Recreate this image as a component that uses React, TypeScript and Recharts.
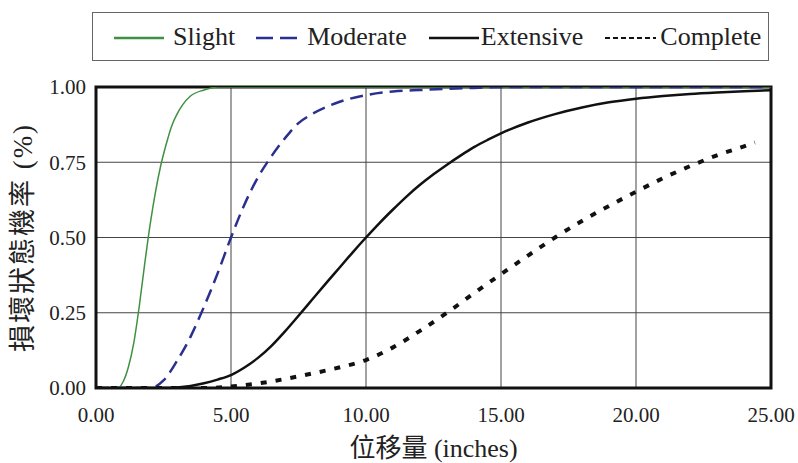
import { LineChart, Line, XAxis, YAxis, CartesianGrid, ReferenceArea } from 'recharts'

// Tick positions.
const X_TICKS = [0, 5, 10, 15, 20, 25]
const Y_TICKS = [0, 0.25, 0.5, 0.75, 1]
const X_MINOR = [1, 2, 3, 4, 6, 7, 8, 9, 11, 12, 13, 14, 16, 17, 18, 19, 21, 22, 23, 24]
const Y_MINOR = [0.05, 0.1, 0.15, 0.2, 0.3, 0.35, 0.4, 0.45, 0.55, 0.6, 0.65, 0.7, 0.8, 0.85, 0.9, 0.95]

// Fragility curves, values.
const SLIGHT_X = [0, 0.5, 0.8, 1.0, 1.2, 1.4, 1.6, 1.8, 2.0, 2.2, 2.4, 2.6, 2.8, 3.0, 3.2, 3.5, 4.0, 4.5, 5, 10, 15, 20, 25]
const SLIGHT_Y = [0, 0, 0, 0.02, 0.07, 0.15, 0.27, 0.41, 0.54, 0.65, 0.74, 0.81, 0.87, 0.91, 0.94, 0.97, 0.99, 1, 1, 1, 1, 1, 1]

const MODERATE_X = [0, 1.5, 2.0, 2.5, 3.0, 3.5, 4.0, 4.5, 5.0, 5.5, 6.0, 6.5, 7.0, 7.5, 8.0, 9.0, 10, 11, 12, 13, 14, 15, 20, 25]
const MODERATE_Y = [0, 0, 0, 0.025, 0.09, 0.17, 0.27, 0.38, 0.5, 0.61, 0.7, 0.77, 0.83, 0.88, 0.91, 0.95, 0.973, 0.985, 0.99, 0.994, 0.997, 1, 1, 1]

const EXTENSIVE_X = [0, 2.5, 3, 3.5, 4, 4.5, 5, 5.5, 6, 6.5, 7, 7.5, 8, 8.5, 9, 9.5, 10, 10.5, 11, 11.5, 12, 12.5, 13, 13.5, 14, 14.5, 15, 16, 17, 18, 19, 20, 21, 22, 23, 24, 25]
const EXTENSIVE_Y = [0, 0, 0.002, 0.007, 0.016, 0.028, 0.043, 0.068, 0.1, 0.14, 0.188, 0.24, 0.293, 0.346, 0.398, 0.45, 0.5, 0.548, 0.593, 0.636, 0.675, 0.71, 0.742, 0.772, 0.8, 0.824, 0.846, 0.882, 0.91, 0.932, 0.949, 0.961, 0.97, 0.977, 0.982, 0.986, 0.989]

const COMPLETE_X = [0, 4, 5, 6, 7, 8, 9, 10, 11, 12, 13, 14, 15, 16, 17, 18, 19, 20, 21, 22, 23, 24, 24.4]
const COMPLETE_Y = [0, 0, 0.005, 0.015, 0.03, 0.048, 0.068, 0.093, 0.135, 0.19, 0.25, 0.315, 0.378, 0.44, 0.5, 0.555, 0.605, 0.652, 0.697, 0.737, 0.773, 0.803, 0.816]

const SERIES_NAMES = ['Slight', 'Moderate', 'Extensive', 'Complete']

const toRows = (xs: number[], ys: number[]) => xs.map((x, i) => ({ x, y: ys[i] }))

type Style = { color: string; width: number; dash?: string; legendDash?: string; legendWidth: number; lineLen: number; gap: number; after: number }

const STYLES: Style[] = [
  { color: '#3f9142', width: 1.5, legendWidth: 2.5, lineLen: 50, gap: 9, after: 21 },
  { color: '#2b2f8f', width: 2.5, dash: '13 7', legendDash: '17 7', legendWidth: 2.5, lineLen: 46, gap: 5, after: 22 },
  { color: '#111111', width: 2.5, legendWidth: 2.5, lineLen: 50, gap: 2, after: 22 },
  { color: '#111111', width: 4, dash: '6 9', legendDash: '5 3', legendWidth: 2, lineLen: 51, gap: 4, after: 0 },
]

const SERIES = [
  toRows(SLIGHT_X, SLIGHT_Y),
  toRows(MODERATE_X, MODERATE_Y),
  toRows(EXTENSIVE_X, EXTENSIVE_Y),
  toRows(COMPLETE_X, COMPLETE_Y),
].map((data, i) => ({ name: SERIES_NAMES[i], data, style: STYLES[i] }))

const TICK_FONT = "'Liberation Serif', 'Times New Roman', serif"
const TITLE_FONT = "'Liberation Serif', 'Noto Sans CJK TC', serif"

function ChartLegend() {
  return (
    <div
      style={{
        position: 'absolute', left: 92, top: 12, width: 677, height: 49,
        boxSizing: 'border-box', border: '1.5px solid #666', background: '#fff',
        display: 'flex', alignItems: 'center', paddingLeft: 21,
        fontFamily: TICK_FONT, fontSize: 26, color: '#222', whiteSpace: 'nowrap',
      }}
    >
      {SERIES.map(s => (
        <div key={s.name} style={{ display: 'flex', alignItems: 'center', marginRight: s.style.after }}>
          <svg width={s.style.lineLen} height={10} style={{ marginRight: s.style.gap, marginTop: 3 }}>
            <line
              x1={0} y1={5} x2={s.style.lineLen} y2={5}
              stroke={s.style.color}
              strokeWidth={s.style.legendWidth}
              strokeDasharray={s.style.legendDash}
            />
          </svg>
          <span>{s.name}</span>
        </div>
      ))}
    </div>
  )
}

export default function App() {
  return (
    <div style={{ position: 'absolute', left: 0, top: 0, width: 798, height: 463, background: '#fff' }}>
      <LineChart width={798} height={463} margin={{ top: 87, right: 27, bottom: 0, left: 0 }}>
        <CartesianGrid stroke="#444" strokeWidth={1} />
        <XAxis
          dataKey="x"
          type="number"
          domain={[0, 25]}
          ticks={X_TICKS}
          allowDataOverflow
          tickFormatter={(v) => Number(v).toFixed(2)}
          tick={{ fontSize: 21, fontFamily: TICK_FONT, fill: '#222' }}
          tickLine={false}
          tickSize={0}
          tickMargin={19}
          axisLine={false}
          height={75}
          label={{
            value: '位移量 (inches)', position: 'insideBottom', offset: 6,
            style: { fontSize: 26, fontFamily: TITLE_FONT, fill: '#222' },
          }}
        />
        <YAxis
          type="number"
          domain={[0, 1]}
          ticks={Y_TICKS}
          allowDataOverflow
          tickFormatter={(v) => Number(v).toFixed(2)}
          tick={{ fontSize: 21, fontFamily: TICK_FONT, fill: '#222' }}
          tickLine={false}
          tickSize={0}
          tickMargin={10}
          axisLine={false}
          width={96}
          label={{
            value: '損壞狀態機率 (%)', angle: -90, position: 'insideLeft', offset: 22,
            style: { textAnchor: 'middle', fontSize: 27, fontFamily: TITLE_FONT, fill: '#222', letterSpacing: 2 },
          }}
        />
        {/* minor ticks drawn inward from the frame */}
        <XAxis
          xAxisId="minor"
          type="number"
          domain={[0, 25]}
          ticks={X_MINOR}
          mirror
          height={0}
          axisLine={false}
          tick={false}
          tickLine={{ stroke: '#222', strokeWidth: 1 }}
          tickSize={5}
        />
        <YAxis
          yAxisId="minor"
          type="number"
          domain={[0, 1]}
          ticks={Y_MINOR}
          mirror
          width={0}
          axisLine={false}
          tick={false}
          tickLine={{ stroke: '#222', strokeWidth: 1 }}
          tickSize={5}
        />
        <ReferenceArea x1={0} x2={25} y1={0} y2={1} fill="none" stroke="#111" strokeWidth={3} />
        {SERIES.map(s => (
          <Line
            key={s.name}
            data={s.data}
            dataKey="y"
            name={s.name}
            type="monotone"
            stroke={s.style.color}
            strokeWidth={s.style.width}
            strokeDasharray={s.style.dash}
            dot={false}
            activeDot={false}
            isAnimationActive={false}
          />
        ))}
      </LineChart>
      <ChartLegend />
    </div>
  )
}
